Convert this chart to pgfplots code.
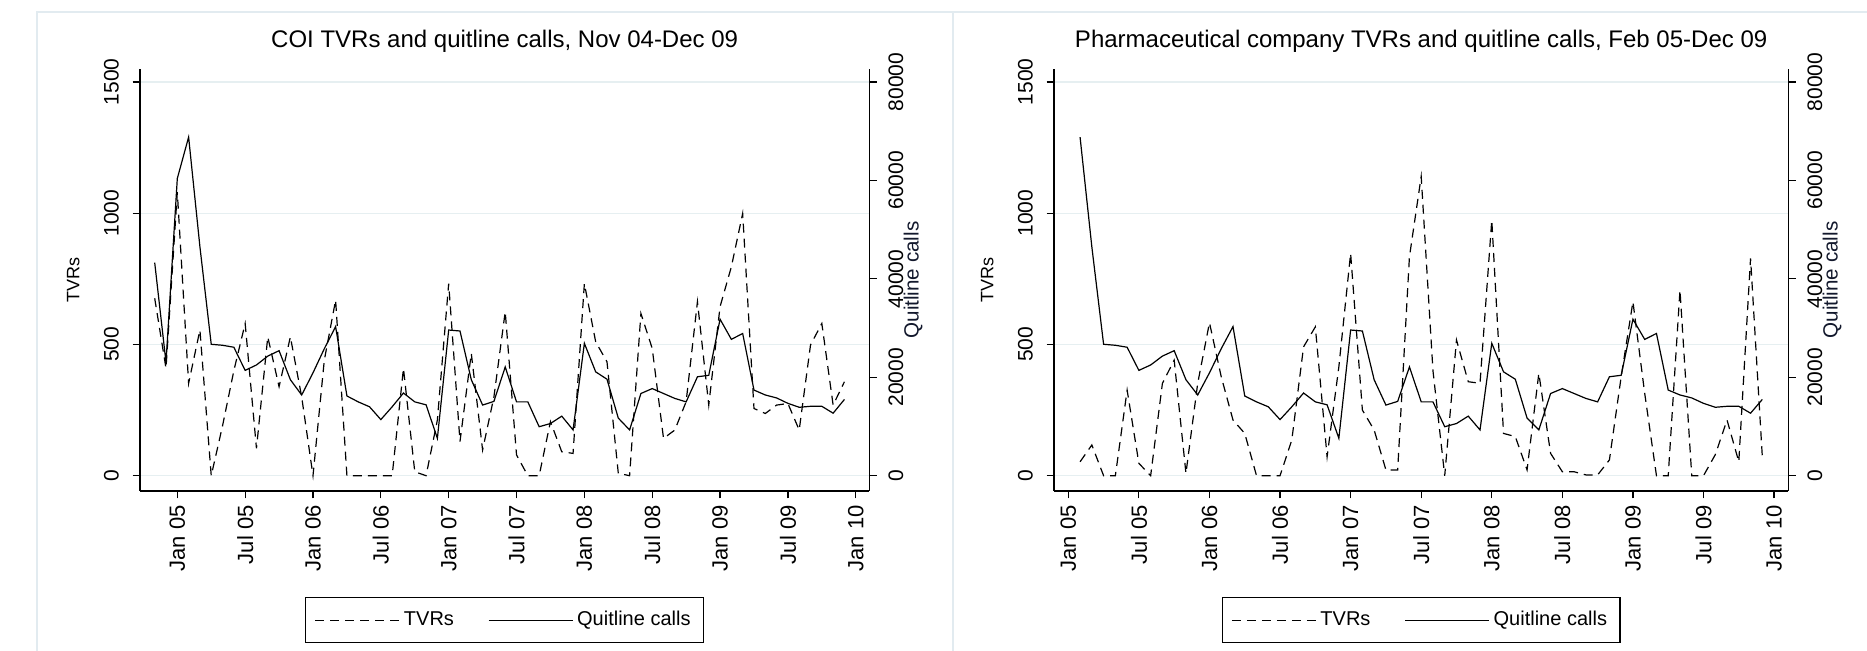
\documentclass[border=0pt]{standalone}
\usepackage{fontspec}
\setmainfont{Liberation Sans}
\usepackage{pgfplots}
\usepackage{pgfplotstable}
\pgfplotsset{compat=1.18}
\definecolor{gridc}{RGB}{230,239,241}
\definecolor{framec}{RGB}{226,235,240}
\definecolor{navyl}{RGB}{18,24,44}

\pgfplotstableread{
m tvr calls
-2 676 43300
-1 409 23000
0 1080 60400
1 352 68800
2 555 46500
3 0 26700
4 190 26500
5 400 26100
6 580 21400
7 104 22500
8 529 24300
9 339 25400
10 529 19500
11 300 16400
12 0 20900
13 440 25800
14 669 30300
15 0 16200
16 0 15000
17 0 14000
18 0 11400
19 0 14000
20 409 16800
21 15 15000
22 0 14400
23 212 7600
24 732 29600
25 130 29400
26 466 19500
27 98 14350
28 300 15100
29 625 22100
30 79 15000
31 0 15000
32 0 9950
33 206 10600
34 91 12100
35 85 9300
36 732 26900
37 510 21100
38 434 19600
39 9 11700
40 0 9300
41 618 16700
42 485 17700
43 142 16700
44 174 15700
45 282 15000
46 663 20100
47 269 20400
48 644 31800
49 796 27700
50 999 28900
51 256 17400
52 237 16400
53 269 15800
54 275 14700
55 174 13900
56 498 14100
57 580 14100
58 269 12700
59 358 15500
}\coidata

\pgfplotstableread{
m tvr calls
1 53 68800
2 117 46500
3 0 26700
4 0 26500
5 326 26100
6 47 21400
7 0 22500
8 352 24300
9 440 25400
10 9 19500
11 352 16400
12 583 20900
13 377 25800
14 212 30300
15 161 16200
16 0 15000
17 0 14000
18 0 11400
19 136 14000
20 491 16800
21 567 15000
22 72 14400
23 415 7600
24 847 29600
25 250 29400
26 174 19500
27 22 14350
28 22 15100
29 834 22100
30 1140 15000
31 400 15000
32 0 9950
33 517 10600
34 358 12100
35 352 9300
36 974 26900
37 161 21100
38 149 19600
39 22 11700
40 390 9300
41 85 16700
42 15 17700
43 15 16700
44 3 15700
45 3 15000
46 60 20100
47 377 20400
48 663 31800
49 314 27700
50 0 28900
51 0 17400
52 707 16400
53 0 15800
54 0 14700
55 80 13900
56 212 14100
57 53 14100
58 828 12700
59 72 15500
}\phdata

\pgfplotsset{
  base/.style={
    scale only axis, height=211pt,
    ymin=-58.3, ymax=1549.5,
    tick align=outside, major tick length=3.7pt,
    every tick/.style={black, line width=0.6pt},
    axis line style={black, line width=0.6pt},
    tick label style={font=\fontsize{10.5}{12}\selectfont},
    /pgf/number format/assume math mode=true,
    /pgf/number format/1000 sep={},
    scaled y ticks=false,
    clip=false,
  },
  tvrax/.style={
    base,
    axis x line*=bottom, axis y line*=left,
    xtick={0,6,...,60},
    xticklabels={Jan 05,Jul 05,Jan 06,Jul 06,Jan 07,Jul 07,Jan 08,Jul 08,Jan 09,Jul 09,Jan 10},
    xticklabel style={rotate=90, anchor=east, inner sep=0pt, font=\fontsize{11}{12}\selectfont},
    xticklabel shift=3.3pt,
    ytick={0,500,1000,1500},
    yticklabel style={rotate=90, anchor=south, inner sep=0pt},
    yticklabel shift=6.65pt,
    ymajorgrids, grid style={gridc, line width=0.6pt},
    ylabel={TVRs},
    title style={at={(0.5,1)}, anchor=base, yshift=4.5pt, font=\fontsize{12}{14}\selectfont, inner sep=0pt},
    legend columns=2,
    legend image code/.code={\draw[#1] (0pt,0pt) -- (42pt,0pt);},
    legend style={at={(0.5,-0.2519)}, anchor=north, draw=black, line width=0.6pt,
      font=\fontsize{10}{12}\selectfont, inner xsep=4.5pt, inner ysep=4.8pt,
      /tikz/every even column/.append style={column sep=15pt}},
  },
  callax/.style={
    base,
    ymin=-3109, ymax=82640,
    axis y line*=right, axis x line=none, xtick=\empty,
    ytick={0,20000,40000,60000,80000},
    yticklabel style={rotate=90, anchor=north, inner sep=0pt},
    yticklabel shift=5.65pt,
    ylabel={Quitline calls},
  },
  tvrline/.style={black, line width=0.6pt, dash pattern=on 4.5pt off 3pt},
  callline/.style={black, line width=0.6pt},
}

\begin{document}
\begin{tikzpicture}
\path[use as bounding box] (0pt,0pt) rectangle (933.5pt,325.5pt);
\draw[framec, line width=1pt] (18.35pt,0pt) -- (18.35pt,319.7pt) -- (933.5pt,319.7pt);
\draw[framec, line width=1pt] (476.65pt,0pt) -- (476.65pt,319.7pt);

% ---- left panel ----
\begin{axis}[tvrax, at={(70pt,80pt)}, anchor=south west, width=364.65pt,
  xmin=-3.30, xmax=61.2,
  every axis y label/.style={at={(axis description cs:-0.0823,0.5)}, rotate=90, anchor=south, inner sep=0pt, font=\fontsize{9}{11}\selectfont},
  title={COI TVRs and quitline calls, Nov 04-Dec 09}]
\addplot[tvrline] table[x=m,y=tvr]{\coidata};
\addlegendentry{TVRs}
\addlegendimage{callline}
\addlegendentry{Quitline calls}
\end{axis}
\begin{axis}[callax, at={(70pt,80pt)}, anchor=south west, width=364.65pt,
  xmin=-3.30, xmax=61.2,
  every axis y label/.style={at={(axis description cs:1.0466,0.5)}, rotate=90, anchor=north, inner sep=0pt, font=\fontsize{10.3}{12}\selectfont, text=navyl}]
\addplot[callline] table[x=m,y=calls]{\coidata};
\end{axis}

% ---- right panel ----
\begin{axis}[tvrax, at={(527pt,80pt)}, anchor=south west, width=367.15pt,
  xmin=-1.216, xmax=61.21,
  every axis y label/.style={at={(axis description cs:-0.0817,0.5)}, rotate=90, anchor=south, inner sep=0pt, font=\fontsize{9}{11}\selectfont},
  title={Pharmaceutical company TVRs and quitline calls, Feb 05-Dec 09}]
\addplot[tvrline] table[x=m,y=tvr]{\phdata};
\addlegendentry{TVRs}
\addlegendimage{callline}
\addlegendentry{Quitline calls}
\end{axis}
\begin{axis}[callax, at={(527pt,80pt)}, anchor=south west, width=367.15pt,
  xmin=-1.216, xmax=61.21,
  every axis y label/.style={at={(axis description cs:1.0463,0.5)}, rotate=90, anchor=north, inner sep=0pt, font=\fontsize{10.3}{12}\selectfont, text=navyl}]
\addplot[callline] table[x=m,y=calls]{\phdata};
\end{axis}
\end{tikzpicture}
\end{document}
